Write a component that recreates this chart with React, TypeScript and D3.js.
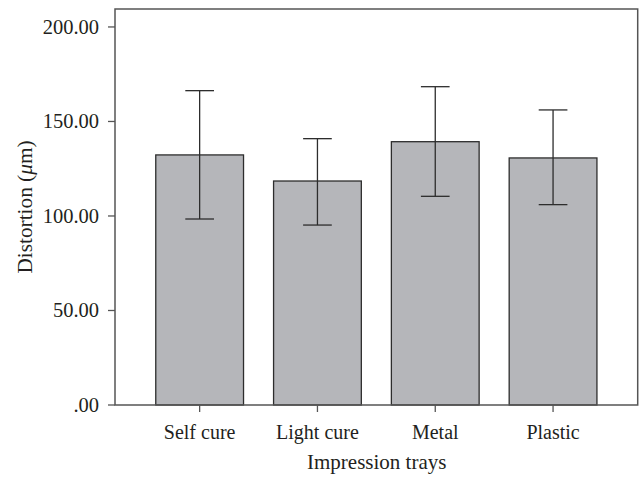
import React from "react";
import * as d3 from "d3";

const categories = ["Self cure", "Light cure", "Metal", "Plastic"];
const means = [132.3, 118.5, 139.3, 130.7];
const errLow = [98.4, 95.2, 110.4, 106.0];
const errHigh = [166.3, 140.9, 168.4, 156.1];
const yTicks = [0, 50, 100, 150, 200];

const W = 640;
const H = 479;
const m = { left: 115, right: 2.3, top: 9, bottom: 74 };

export default function App() {
  const x = d3
    .scaleBand<string>()
    .domain(categories)
    .range([m.left, W - m.right])
    .paddingInner(0.255)
    .paddingOuter(0.346);
  const y = d3.scaleLinear().domain([0, 209.5]).range([H - m.bottom, m.top]);
  const font = "'Liberation Serif', 'Times New Roman', serif";
  const fmt = (v: number) => (v === 0 ? ".00" : v.toFixed(2));
  const y0 = y(0);
  const capW = 28.7;
  return (
    <svg
      width={W}
      height={H}
      style={{ position: "absolute", left: 0, top: 0, background: "#fff" }}
      fontFamily={font}
    >
      {categories.map((c, i) => {
        const bx = x(c)!;
        const cx = bx + x.bandwidth() / 2;
        return (
          <g key={c}>
            <rect
              x={bx}
              y={y(means[i])}
              width={x.bandwidth()}
              height={y0 - y(means[i])}
              fill="#b5b6ba"
              stroke="#2d2d2d"
              strokeWidth={1.3}
            />
            <line x1={cx} x2={cx} y1={y(errLow[i])} y2={y(errHigh[i])} stroke="#2d2d2d" strokeWidth={1.3} />
            <line x1={cx - capW / 2} x2={cx + capW / 2} y1={y(errHigh[i])} y2={y(errHigh[i])} stroke="#2d2d2d" strokeWidth={1.3} />
            <line x1={cx - capW / 2} x2={cx + capW / 2} y1={y(errLow[i])} y2={y(errLow[i])} stroke="#2d2d2d" strokeWidth={1.3} />
            <line x1={cx} x2={cx} y1={y0} y2={y0 + 7} stroke="#555" strokeWidth={1.3} />
            <text x={cx} y={439.3} textAnchor="middle" fontSize={20} fill="#231f20">
              {c}
            </text>
          </g>
        );
      })}
      <rect
        x={m.left}
        y={m.top}
        width={W - m.right - m.left}
        height={H - m.bottom - m.top}
        fill="none"
        stroke="#555"
        strokeWidth={1.5}
      />
      {yTicks.map((t) => (
        <g key={t}>
          <line x1={m.left - 7} x2={m.left} y1={y(t)} y2={y(t)} stroke="#555" strokeWidth={1.3} />
          <text x={99} y={y(t)} dy="0.34em" textAnchor="end" fontSize={20.5} fill="#231f20">
            {fmt(t)}
          </text>
        </g>
      ))}
      <text x={376.7} y={469} textAnchor="middle" fontSize={21} fill="#231f20">
        Impression trays
      </text>
      <text
        transform={`translate(31.7, ${(m.top + H - m.bottom) / 2}) rotate(-90)`}
        textAnchor="middle"
        fontSize={21.3}
        fill="#231f20"
      >
        Distortion (<tspan fontStyle="italic">μ</tspan>m)
      </text>
    </svg>
  );
}
